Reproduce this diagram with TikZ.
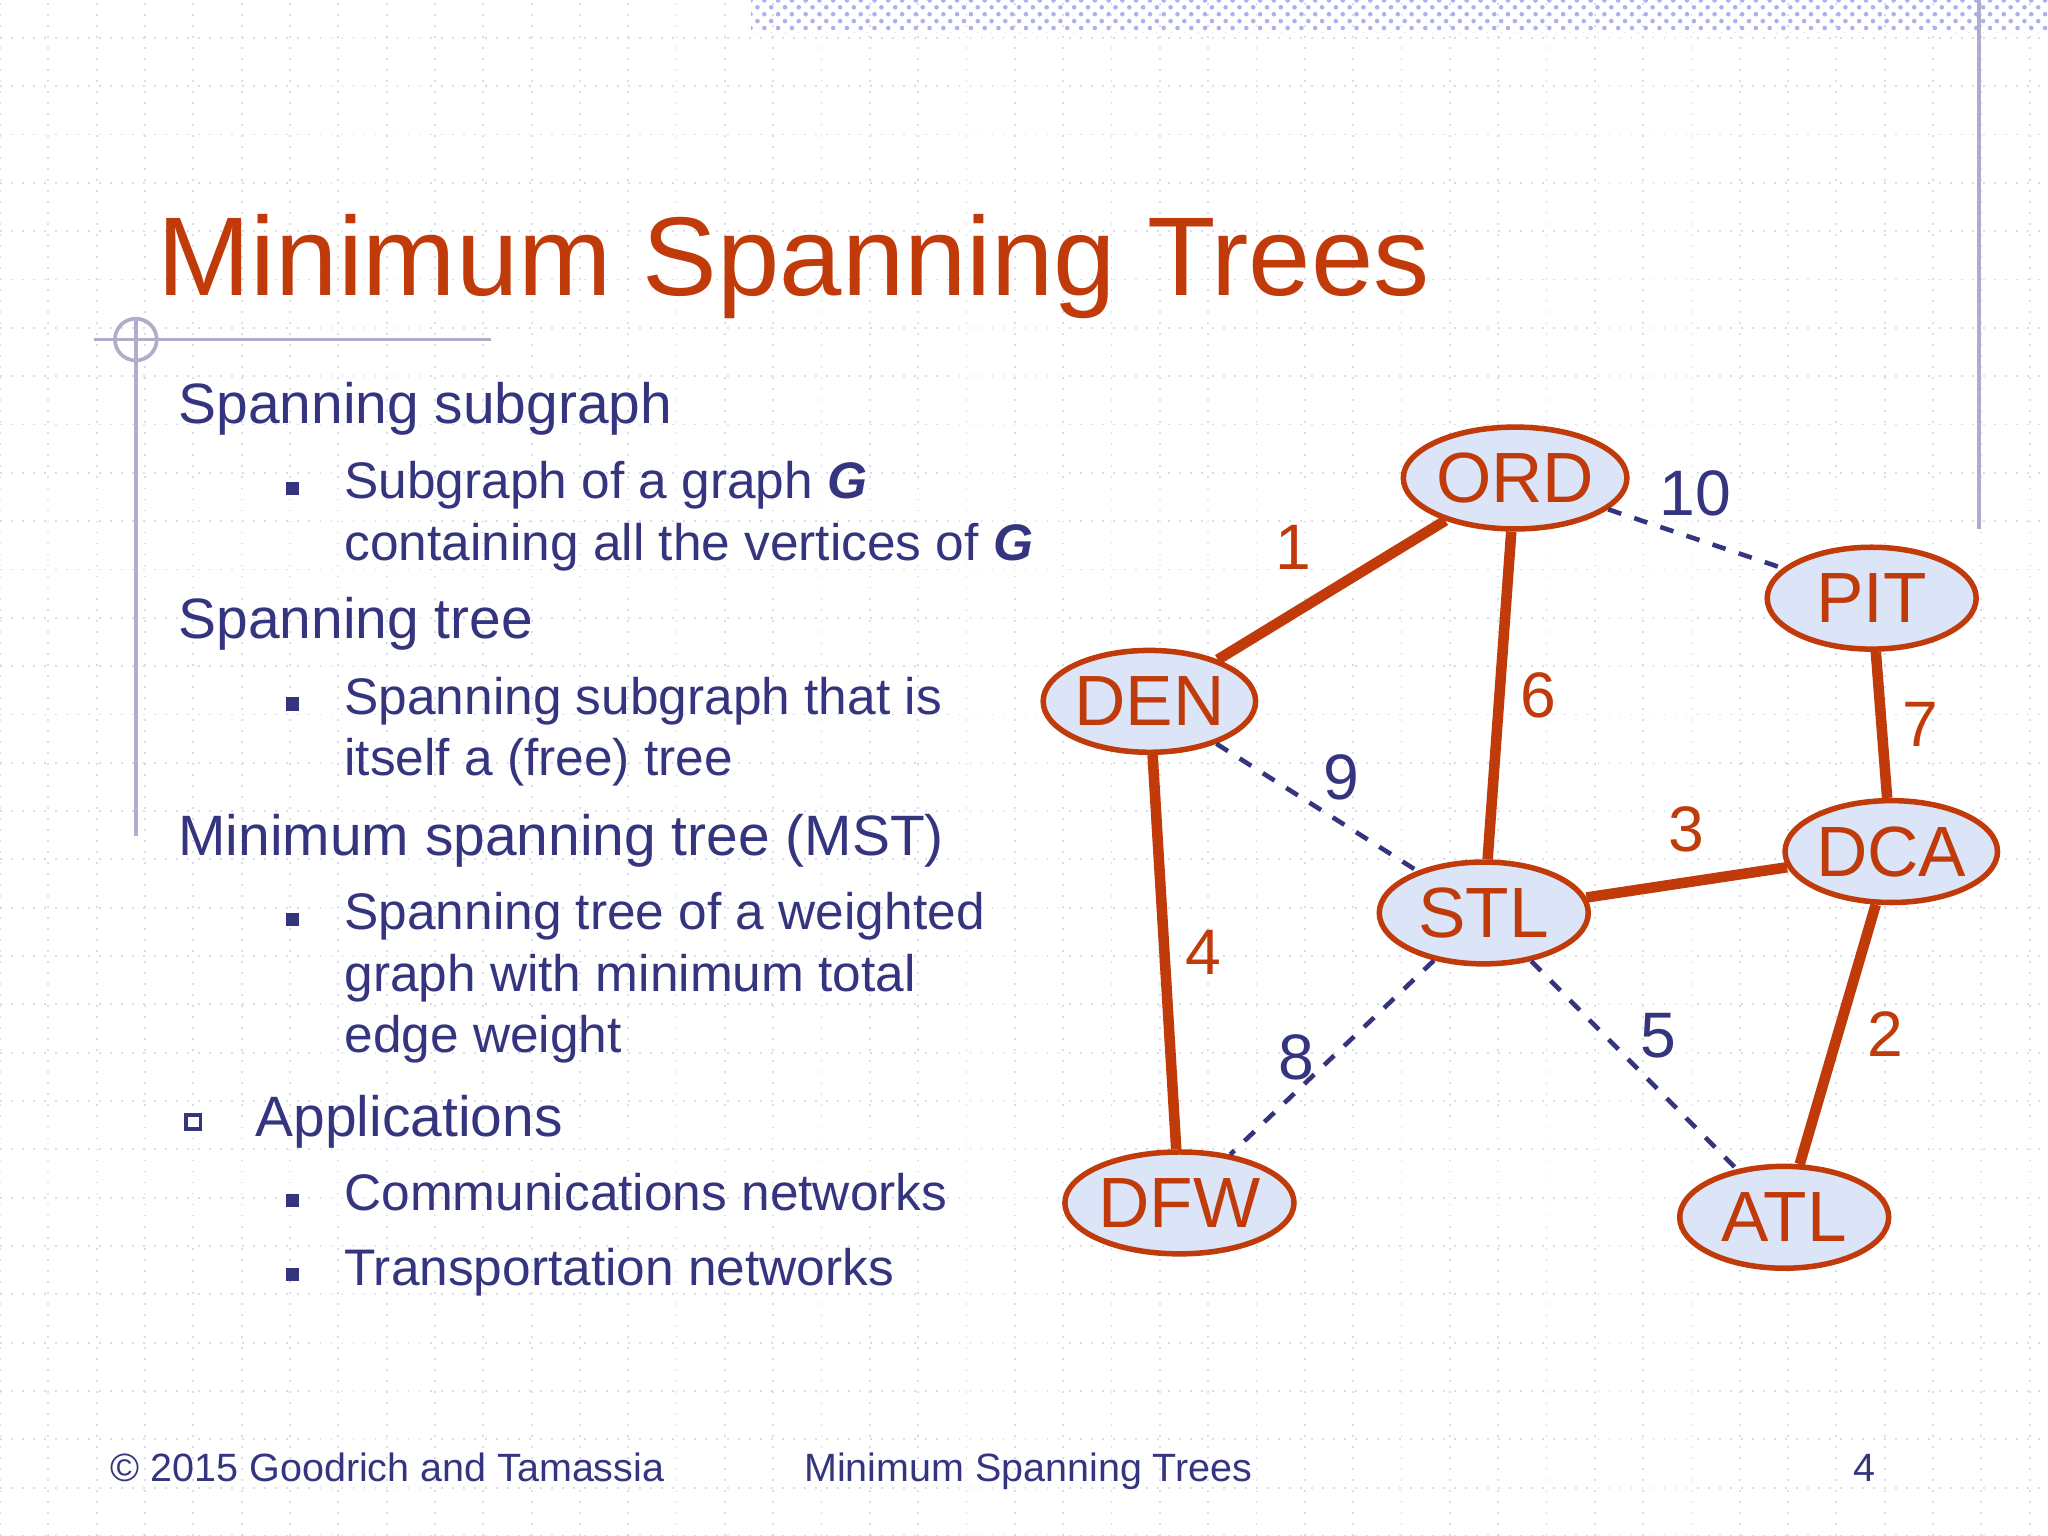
\documentclass[tikz,border=0pt]{standalone}
\usepackage{fontspec}
\setmainfont{Liberation Sans}
\usetikzlibrary{shapes.geometric,patterns}
\definecolor{mstred}{HTML}{C03A0A}
\definecolor{mstfill}{HTML}{DCE4F8}
\definecolor{txtblue}{HTML}{35357F}
\definecolor{gridblue}{HTML}{D8DCEC}
\tikzset{
  city/.style={ellipse, draw=mstred, fill=mstfill, line width=1.2pt,
    minimum width=1.6cm, minimum height=0.78cm, inner sep=0pt,
    text=mstred, font=\fontsize{15.5}{15.5}\selectfont},
  tree/.style={draw=mstred, line width=2.3pt},
  other/.style={draw=txtblue, dashed, line width=1pt},
  treew/.style={text=mstred, font=\fontsize{14}{14}\selectfont},
  otherw/.style={text=txtblue, font=\fontsize{14}{14}\selectfont},
  body/.style={anchor=base west, text=txtblue, inner sep=0pt},
  big/.style={body, font=\fontsize{12.4}{12.4}\selectfont},
  small/.style={body, font=\fontsize{11.2}{11.2}\selectfont},
  bul/.style={fill=txtblue, minimum size=0.1cm, inner sep=0pt},
}
\begin{document}
\begin{tikzpicture}[x=1cm,y=1cm]
  \useasboundingbox (0,0) rectangle (15.68,11.76);
  \fill[white] (0,0) rectangle (15.68,11.76);
  % background grid and decorations
  \draw[gridblue, dotted, line width=0.4pt] (0,0) grid[step=0.37] (15.68,11.76);
  \fill[pattern=crosshatch dots, pattern color=gridblue!80!blue] (5.75,11.51) rectangle (15.68,11.76);
  \draw[txtblue!40!white, line width=0.8pt] (15.15,11.76) -- (15.15,7.71);
  \draw[txtblue!40!white, line width=0.8pt] (0.72,9.16) -- (3.76,9.16);
  \draw[txtblue!40!white, line width=0.8pt] (1.04,9.31) -- (1.04,5.36);
  \draw[txtblue!40!white, line width=0.8pt] (1.04,9.16) circle (0.16);

  % title
  \node[anchor=base west, text=mstred, inner sep=0pt, font=\fontsize{24.4}{24.4}\selectfont]
    (title) at (1.2,9.5) {Minimum Spanning Trees};

  % text
  \node[big] (t1) at (1.36,8.52) {Spanning subgraph};
  \node[bul] at (2.24,8.02) {};
  \node[small] (t2a) at (2.63,7.94) {Subgraph of a graph \textbf{\textit{G}}};
  \node[small] (t2b) at (2.63,7.47) {containing all the vertices of \textbf{\textit{G}}};
  \node[big] (t3) at (1.36,6.87) {Spanning tree};
  \node[bul] at (2.24,6.37) {};
  \node[small] (t4a) at (2.63,6.29) {Spanning subgraph that is};
  \node[small] (t4b) at (2.63,5.82) {itself a (free) tree};
  \node[big] (t5) at (1.36,5.21) {Minimum spanning tree (MST)};
  \node[bul] at (2.24,4.72) {};
  \node[small] (t6a) at (2.63,4.64) {Spanning tree of a weighted};
  \node[small] (t6b) at (2.63,4.17) {graph with minimum total};
  \node[small] (t6c) at (2.63,3.70) {edge weight};
  \node[draw=txtblue, line width=0.8pt, minimum size=0.11cm, inner sep=0pt] at (1.48,3.17) {};
  \node[big] (t7) at (1.95,3.06) {Applications};
  \node[bul] at (2.24,2.57) {};
  \node[small] (t8) at (2.63,2.49) {Communications networks};
  \node[bul] at (2.24,2.00) {};
  \node[small] (t9) at (2.63,1.92) {Transportation networks};

  % footer
  \node[body, font=\fontsize{8.6}{8.6}\selectfont] (copy) at (0.84,0.42) {\textcopyright{} 2015 Goodrich and Tamassia};
  \node[body, font=\fontsize{8.6}{8.6}\selectfont] (foot) at (6.15,0.42) {Minimum Spanning Trees};
  \node[body, font=\fontsize{8.6}{8.6}\selectfont] (page) at (14.18,0.42) {4};

  % Nodes
  \node[city] (ORD) at (11.60,8.10) {ORD};
  \node[city] (PIT) at (14.33,7.18) {PIT};
  \node[city] (DEN) at (8.80,6.39) {DEN};
  \node[city] (DCA) at (14.48,5.24) {DCA};
  \node[city] (STL) at (11.36,4.77) {STL};
  \node[city] (DFW) at (9.03,2.55) {DFW};
  \node[city] (ATL) at (13.66,2.44) {ATL};

  % Edges with weights
  \path[other] (ORD) -- (PIT) node[midway, above, otherw, yshift=1pt] {10};
  \path[other] (DEN) -- (STL) node[midway, above right, otherw, inner sep=1pt] {9};
  \path[other] (STL) -- (DFW) node[midway, left, otherw] {8};
  \path[other] (STL) -- (ATL) node[midway, above right, otherw, inner sep=1pt] {5};
  \path[tree] (DEN) -- (ORD) node[midway, above left, treew] {1};
  \path[tree] (ORD) -- (STL) node[midway, right, treew] {6};
  \path[tree] (DEN) -- (DFW) node[midway, right, treew] {4};
  \path[tree] (STL) -- (DCA) node[midway, above, treew, yshift=2pt] {3};
  \path[tree] (PIT) -- (DCA) node[midway, right, treew] {7};
  \path[tree] (DCA) -- (ATL) node[midway, right, treew, xshift=2pt] {2};
\end{tikzpicture}
\end{document}
